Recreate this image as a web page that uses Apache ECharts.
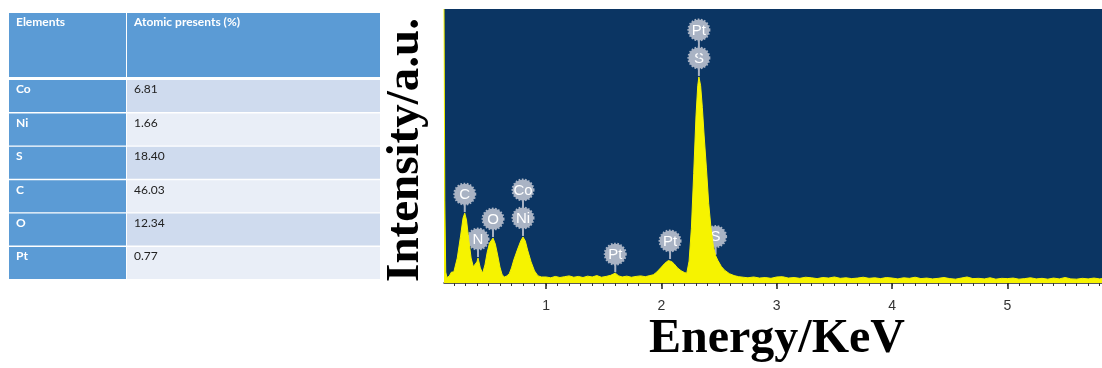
<!DOCTYPE html>
<html>
<head>
<meta charset="utf-8">
<script src="https://cdn.jsdelivr.net/npm/echarts@6/dist/echarts.min.js"></script>
<style>
  html, body { margin: 0; padding: 0; background: #ffffff; }
  #chart { width: 1102px; height: 368px; }
</style>
</head>
<body>
<div id="chart"></div>
<script>
// ---- Composition table ----
const tableHeader = ['Elements', 'Atomic presents (%)'];
const elements = ['Co', 'Ni', 'S', 'C', 'O', 'Pt'];
const atomicPercent = [6.81, 1.66, 18.40, 46.03, 12.34, 0.77];

// ---- EDS spectrum (energy in keV, intensity in arbitrary units) ----
const energy = [
  0.115, 0.122, 0.13, 0.14, 0.16, 0.18, 0.20, 0.23, 0.26, 0.28, 0.295, 0.31, 0.33, 0.35, 0.37, 0.38,
  0.40, 0.41, 0.43, 0.45, 0.47, 0.49, 0.51, 0.54, 0.56, 0.58, 0.60, 0.62, 0.64, 0.66, 0.68, 0.70,
  0.72, 0.75, 0.78, 0.80, 0.82, 0.84, 0.87, 0.90, 0.93, 0.96,
  1.00, 1.04, 1.08, 1.12, 1.16, 1.20, 1.24, 1.28, 1.32, 1.36, 1.40, 1.44, 1.48, 1.52, 1.56, 1.60,
  1.63, 1.66, 1.70, 1.74, 1.78, 1.82, 1.86, 1.90, 1.93, 1.96, 2.00, 2.03, 2.06, 2.075, 2.09, 2.11,
  2.14, 2.17, 2.20, 2.22, 2.24, 2.26, 2.28, 2.30, 2.315, 2.325, 2.34, 2.355, 2.37, 2.39, 2.41, 2.43,
  2.45, 2.47, 2.49, 2.52, 2.55, 2.59, 2.63, 2.67, 2.71, 2.75, 2.80, 2.85, 2.90, 2.95, 3.00, 3.05,
  3.10, 3.15, 3.20, 3.25, 3.30, 3.35, 3.40, 3.45, 3.50, 3.55, 3.60, 3.65, 3.70, 3.75, 3.80, 3.85,
  3.90, 3.95, 4.00, 4.05, 4.10, 4.15, 4.20, 4.25, 4.30, 4.35, 4.40, 4.45, 4.50, 4.55, 4.60, 4.65,
  4.70, 4.75, 4.80, 4.85, 4.90, 4.95, 5.00, 5.05, 5.10, 5.15, 5.20, 5.25, 5.30, 5.35, 5.40, 5.45,
  5.50, 5.55, 5.60, 5.65, 5.70, 5.75, 5.80, 5.82
];
const intensity = [
  1000, 300, 40, 20, 25, 40, 40, 91, 175, 237, 255, 230, 157, 91, 58, 66,
  77, 91, 55, 36, 66, 113, 146, 164, 142, 102, 58, 29, 22, 26, 33, 55,
  84, 120, 153, 168, 153, 120, 77, 44, 26, 22,
  22, 19, 24, 20, 23, 26, 21, 24, 20, 25, 22, 27, 21, 24, 28, 36,
  26, 22, 25, 21, 24, 26, 23, 27, 30, 40, 58, 72, 82, 84, 78, 70,
  55, 45, 38, 36, 80, 200, 400, 610, 720, 752, 720, 640, 540, 420, 290, 200,
  135, 100, 82, 60, 46, 34, 27, 23, 21, 19, 22, 18, 20, 17, 22, 23,
  18, 20, 17, 21, 19, 16, 20, 18, 22, 17, 19, 16, 18, 21, 17, 19,
  16, 20, 18, 15, 19, 17, 21, 16, 18, 15, 17, 20, 16, 14, 18, 22,
  16, 17, 15, 19, 14, 17, 16, 18, 14, 16, 19, 15, 17, 14, 18, 15,
  20, 15, 14, 17, 15, 18, 15, 16
];

// ---- Peak identification tags: element, energy (keV), stack level ----
const peakTags = ['C', 'N', 'O', 'Ni', 'Co', 'Pt', 'Pt', 'S', 'Pt', 'S'];
const peakEnergy = [0.295, 0.41, 0.54, 0.80, 0.80, 1.60, 2.075, 2.325, 2.325, 2.47];
const peakStack = [0, 0, 0, 0, 1, 0, 0, 0, 1, 0];

// ---- Axis ticks ----
const energyMin = 0.115;
const energyMax = 5.82;
const majorTicks = [1, 2, 3, 4, 5];
const minorTicks = [];
for (let t = 2; t <= 58; t++) minorTicks.push(t / 10);

// intensity of the spectrum at a given energy (linear between samples)
function intensityAt(e) {
  for (let i = 1; i < energy.length; i++) {
    if (e <= energy[i]) {
      const f = (e - energy[i - 1]) / (energy[i] - energy[i - 1]);
      return intensity[i - 1] + f * (intensity[i] - intensity[i - 1]);
    }
  }
  return intensity[intensity.length - 1];
}

const spectrum = energy.map((e, i) => [e, intensity[i]]);
const tags = peakEnergy.map((e, i) => [e, intensityAt(e), peakStack[i]]);

// ---- Table drawn as graphic elements ----
const BLUE = '#5b9bd5';
const ROW_A = '#cfdbee';
const ROW_B = '#e9eef7';
const col1X = 9, col1W = 117, col2X = 127, col2W = 253;
const headTop = 13, headH = 64, rowTop0 = 80, rowPitch = 33.4, rowH = 32;
const cellFont = '12px Lato, "Open Sans", sans-serif';
const cellFontBold = 'bold 12px Lato, "Open Sans", sans-serif';

const tableGraphics = [];
tableGraphics.push({ type: 'rect', shape: { x: col1X, y: headTop, width: col1W, height: headH }, style: { fill: BLUE } });
tableGraphics.push({ type: 'rect', shape: { x: col2X, y: headTop, width: col2W, height: headH }, style: { fill: BLUE } });
tableGraphics.push({ type: 'text', x: 16, y: headTop + 9.5, style: { text: tableHeader[0], font: cellFontBold, fill: '#ffffff', verticalAlign: 'middle' } });
tableGraphics.push({ type: 'text', x: 134, y: headTop + 9.5, style: { text: tableHeader[1], font: cellFontBold, fill: '#ffffff', verticalAlign: 'middle' } });
elements.forEach((el, i) => {
  const top = rowTop0 + i * rowPitch;
  tableGraphics.push({ type: 'rect', shape: { x: col1X, y: top, width: col1W, height: rowH }, style: { fill: BLUE } });
  tableGraphics.push({ type: 'rect', shape: { x: col2X, y: top, width: col2W, height: rowH }, style: { fill: i % 2 === 0 ? ROW_A : ROW_B } });
  tableGraphics.push({ type: 'text', x: 16, y: top + 9.5, style: { text: el, font: cellFontBold, fill: '#ffffff', verticalAlign: 'middle' } });
  tableGraphics.push({ type: 'text', x: 134, y: top + 9.5, style: { text: atomicPercent[i].toFixed(2), font: cellFont, fill: '#222222', verticalAlign: 'middle' } });
});

// ---- Axis titles ----
const titleGraphics = [
  { type: 'text', x: 777, y: 340, style: { text: 'Energy/KeV', font: 'bold 48px "Liberation Serif", "Times New Roman", serif', fill: '#000000', align: 'center', verticalAlign: 'middle' } },
  { type: 'text', x: 406, y: 150, rotation: Math.PI / 2, style: { text: 'Intensity/a.u.', font: 'bold 47px "Liberation Serif", "Times New Roman", serif', fill: '#000000', align: 'center', verticalAlign: 'middle' } }
];

const TAG_FILL = '#a9b3c4';

const chart = echarts.init(document.getElementById('chart'), null, { renderer: 'canvas' });
chart.setOption({
  animation: false,
  backgroundColor: '#ffffff',
  grid: {
    left: 444, right: 0, top: 9, bottom: 85,
    show: true, backgroundColor: '#0b3563', borderWidth: 0
  },
  xAxis: [
    {
      type: 'value', min: energyMin, max: energyMax,
      axisLine: { show: true, onZero: false, lineStyle: { color: '#222222', width: 1.5 } },
      axisTick: { show: true, inside: false, length: 6, customValues: majorTicks, lineStyle: { color: '#222222', width: 1.5 } },
      axisLabel: { show: true, customValues: majorTicks, margin: 16, fontSize: 14, color: '#333333', fontFamily: '"Liberation Sans", Arial, sans-serif' },
      splitLine: { show: false }
    },
    {
      type: 'value', min: energyMin, max: energyMax, position: 'bottom', gridIndex: 0,
      axisLine: { show: false, onZero: false },
      axisTick: { show: true, inside: false, length: 3, customValues: minorTicks, lineStyle: { color: '#333333', width: 1 } },
      axisLabel: { show: false },
      splitLine: { show: false }
    }
  ],
  yAxis: {
    type: 'value', min: 0, max: 1000,
    axisLine: { show: false }, axisTick: { show: false }, axisLabel: { show: false }, splitLine: { show: false }
  },
  series: [
    {
      type: 'line', xAxisIndex: 0, yAxisIndex: 0,
      data: spectrum, symbol: 'none', smooth: false, clip: true,
      lineStyle: { color: '#f6f300', width: 1 },
      areaStyle: { color: '#f6f300', opacity: 1 }
    },
    {
      type: 'custom', xAxisIndex: 0, yAxisIndex: 0,
      data: tags,
      encode: { x: 0, y: 1 },
      renderItem: function (params, api) {
        const tip = api.coord([api.value(0), api.value(1)]);
        const lvl = api.value(2);
        const cy = tip[1] - 19 - lvl * 28;
        const stemStart = lvl ? tip[1] - 19 - (lvl - 1) * 28 : tip[1] - 1;
        return {
          type: 'group',
          children: [
            { type: 'line', shape: { x1: tip[0], y1: stemStart, x2: tip[0], y2: cy }, style: { stroke: TAG_FILL, lineWidth: 2 } },
            { type: 'circle', shape: { cx: tip[0], cy: cy, r: 10.5 }, style: { fill: TAG_FILL, stroke: TAG_FILL, lineWidth: 2, lineDash: [1.6, 1.6] } },
            { type: 'text', x: tip[0], y: cy + 0.5, style: { text: peakTags[params.dataIndex], font: '15px "Liberation Sans", Arial, sans-serif', fill: '#ffffff', align: 'center', verticalAlign: 'middle' } }
          ]
        };
      }
    }
  ],
  graphic: tableGraphics.concat(titleGraphics)
});
</script>
</body>
</html>
